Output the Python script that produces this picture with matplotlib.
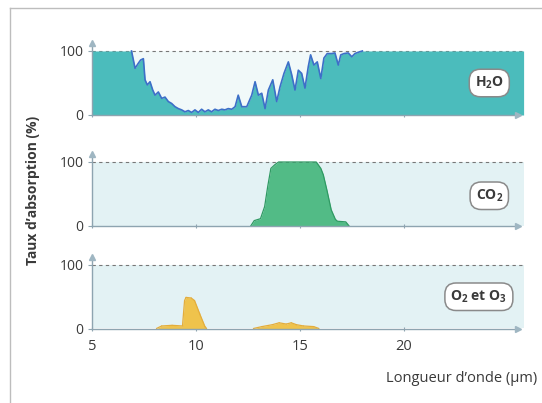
import matplotlib
matplotlib.use("Agg")
import matplotlib.pyplot as plt
from matplotlib.lines import Line2D

plt.rcParams['font.family'] = ['Open Sans', 'DejaVu Sans']

# ---------------- data ----------------
x_ticks = [5, 10, 15, 20]
y_ticks = [0, 100]
x_min, x_max = 5, 25.75

h2o_wl = [6.9, 7.07, 7.23, 7.34, 7.47, 7.55, 7.66, 7.79, 7.92, 8.03, 8.19, 8.35, 8.51, 8.67, 8.83,
          8.99, 9.15, 9.31, 9.47, 9.63, 9.79, 9.95, 10.11, 10.27, 10.43, 10.59, 10.75, 10.91, 11.07,
          11.24, 11.39, 11.55, 11.72, 11.88, 12.03, 12.20, 12.44, 12.68, 12.84, 13.0, 13.16, 13.32,
          13.48, 13.69, 13.88, 14.04, 14.23, 14.44, 14.60, 14.76, 14.92, 15.08, 15.24, 15.40, 15.51,
          15.67, 15.83, 16.0, 16.15, 16.31, 16.52, 16.68, 16.84, 16.96, 17.12, 17.32, 17.49, 17.64,
          17.80, 18.0]
h2o_abs = [100, 73, 81, 86, 88, 55, 47, 52, 39, 31, 36, 26, 28, 21, 18,
           13, 10, 8, 5, 7, 4, 8, 4, 9, 5, 8, 5, 9, 7,
           9, 8, 10, 9, 13, 31, 13, 13, 31, 52, 31, 34, 10,
           39, 55, 21, 44, 65, 83, 63, 39, 70, 65, 42, 76, 94,
           78, 83, 57, 89, 96, 96, 97, 78, 94, 96, 97, 91, 96,
           98, 100]

co2_wl = [12.64, 12.8, 13.1, 13.3, 13.45, 13.6, 13.8, 13.97, 15.78, 16.0, 16.12, 16.3, 16.5, 16.7,
          16.8, 17.2, 17.35]
co2_abs = [0, 8, 11, 30, 62, 90, 96, 100, 100, 90, 80, 55, 25, 10, 7, 6, 0]

o3_wl = [8.1, 8.35, 8.85, 9.35, 9.45, 9.52, 9.77, 9.93, 10.18, 10.43, 10.51,
         12.76, 13.17, 13.67, 14.0, 14.34, 14.58, 14.83, 15.17, 15.66, 15.91]
o3_abs = [0, 4, 5, 4, 44, 49, 48, 44, 23, 3, 0,
          0, 3, 6, 9, 7, 9, 6, 4, 3, 0]

labels = ['H$_\\mathregular{2}$O', 'CO$_\\mathregular{2}$',
          'O$_\\mathregular{2}$ et O$_\\mathregular{3}$']

# ---------------- style ----------------
W, H = 542, 403
fig = plt.figure(figsize=(W / 100, H / 100), dpi=100)
fig.patch.set_facecolor('white')

teal = '#4bbcbc'
green = '#52bb86'
yellow = '#efc34c'
bg = '#e3f2f4'
window = '#f1f9f9'
axis_col = '#8ea4b0'
text_col = '#3a3a3a'

panels = [(115, 51), (225.7, 162), (328.5, 265)]
left_px, right_px = 92, 523.6
ytop = 118

axes = []
for (p0, p100) in panels:
    px_per = (p0 - p100) / 100.0
    top_px = p0 - ytop * px_per
    ax = fig.add_axes([left_px / W, 1 - p0 / H, (right_px - left_px) / W, (p0 - top_px) / H])
    ax.set_xlim(x_min, x_max)
    ax.set_ylim(0, ytop)
    ax.patch.set_alpha(0)
    for s in ['top', 'right', 'left', 'bottom']:
        ax.spines[s].set_visible(False)
    ax.set_yticks(y_ticks)
    ax.set_yticklabels([str(v) for v in y_ticks])
    ax.tick_params(axis='y', length=3, width=0.8, color=axis_col, labelsize=10,
                   labelcolor=text_col, pad=3)
    ax.set_xticks(x_ticks)
    ax.tick_params(axis='x', length=3, width=0.8, color=axis_col, direction='inout',
                   labelsize=10.5, labelcolor=text_col, pad=6)
    axes.append(ax)

for ax in axes[:2]:
    ax.set_xticklabels([])
axes[2].set_xticklabels([str(v) for v in x_ticks])

def draw_axes_lines(ax):
    ax.plot([x_min, x_min], [0, 112], color=axis_col, lw=1.0, clip_on=False, zorder=6)
    ax.plot([x_min, 25.4], [0, 0], color=axis_col, lw=1.0, clip_on=False, zorder=6)
    ax.plot([x_min], [113], marker='^', color='#9fb6c2', markersize=5, clip_on=False, zorder=6)
    ax.plot([25.5], [0], marker='>', color='#9fb6c2', markersize=5, clip_on=False, zorder=6)

# --- H2O ---
ax = axes[0]
ax.fill_between([x_min, x_max], 0, 100, color=window, lw=0, zorder=1)
ax.plot([x_min, x_max], [100, 100], color='#777777', lw=0.8, ls=(0, (3, 3)), zorder=2)
xs = [x_min] + h2o_wl + [x_max]
ys = [100] + h2o_abs + [100]
ax.fill_between(xs, 0, ys, color=teal, lw=0, zorder=3)
ax.plot(h2o_wl, h2o_abs, color='#3d6fc8', lw=1.2, zorder=4)

# --- CO2 ---
ax = axes[1]
ax.fill_between([x_min, x_max], 0, 100, color=bg, lw=0, zorder=1)
ax.plot([x_min, x_max], [100, 100], color='#777777', lw=0.8, ls=(0, (3, 3)), zorder=2)
ax.fill_between(co2_wl, 0, co2_abs, color=green, lw=0, zorder=3)
ax.plot(co2_wl, co2_abs, color='#2f9a63', lw=0.9, zorder=4)

# --- O2 et O3 ---
ax = axes[2]
ax.fill_between([x_min, x_max], 0, 100, color=bg, lw=0, zorder=1)
ax.plot([x_min, x_max], [100, 100], color='#777777', lw=0.8, ls=(0, (3, 3)), zorder=2)
ax.fill_between(o3_wl, 0, o3_abs, color=yellow, lw=0, zorder=3)
for i in range(len(o3_wl) - 1):
    if o3_abs[i] == 0 and o3_abs[i + 1] == 0:
        continue
    ax.plot(o3_wl[i:i + 2], o3_abs[i:i + 2], color='#e3ad3c', lw=0.9, zorder=4,
            solid_capstyle='round')

for ax in axes:
    draw_axes_lines(ax)

label_pos = [(24.1, 50), (24.1, 47), (23.6, 50)]
for ax, lab, (lx, ly) in zip(axes, labels, label_pos):
    ax.text(lx, ly, lab, ha='center', va='center', fontsize=10, fontweight='bold',
            color=text_col, zorder=8,
            bbox=dict(boxstyle='round,pad=0.4,rounding_size=0.8', fc='white',
                      ec='#8a8a8a', lw=1.1))

fig.text(33 / W, 1 - 190 / H, 'Taux d\u2019absorption (%)', rotation=90, ha='center',
         va='center', fontsize=10, fontweight='bold', color=text_col)
fig.text(537 / W, 1 - 378 / H, 'Longueur d\u2019onde (\u00b5m)', ha='right', va='center',
         fontsize=10.5, color=text_col)

fig.add_artist(Line2D([10 / W, 10 / W], [0, 1 - 8 / H], color='#bdbdbd', lw=1.0))
fig.add_artist(Line2D([10 / W, 1], [1 - 8 / H, 1 - 8 / H], color='#bdbdbd', lw=1.0))

fig.savefig('out.png', dpi=100)
